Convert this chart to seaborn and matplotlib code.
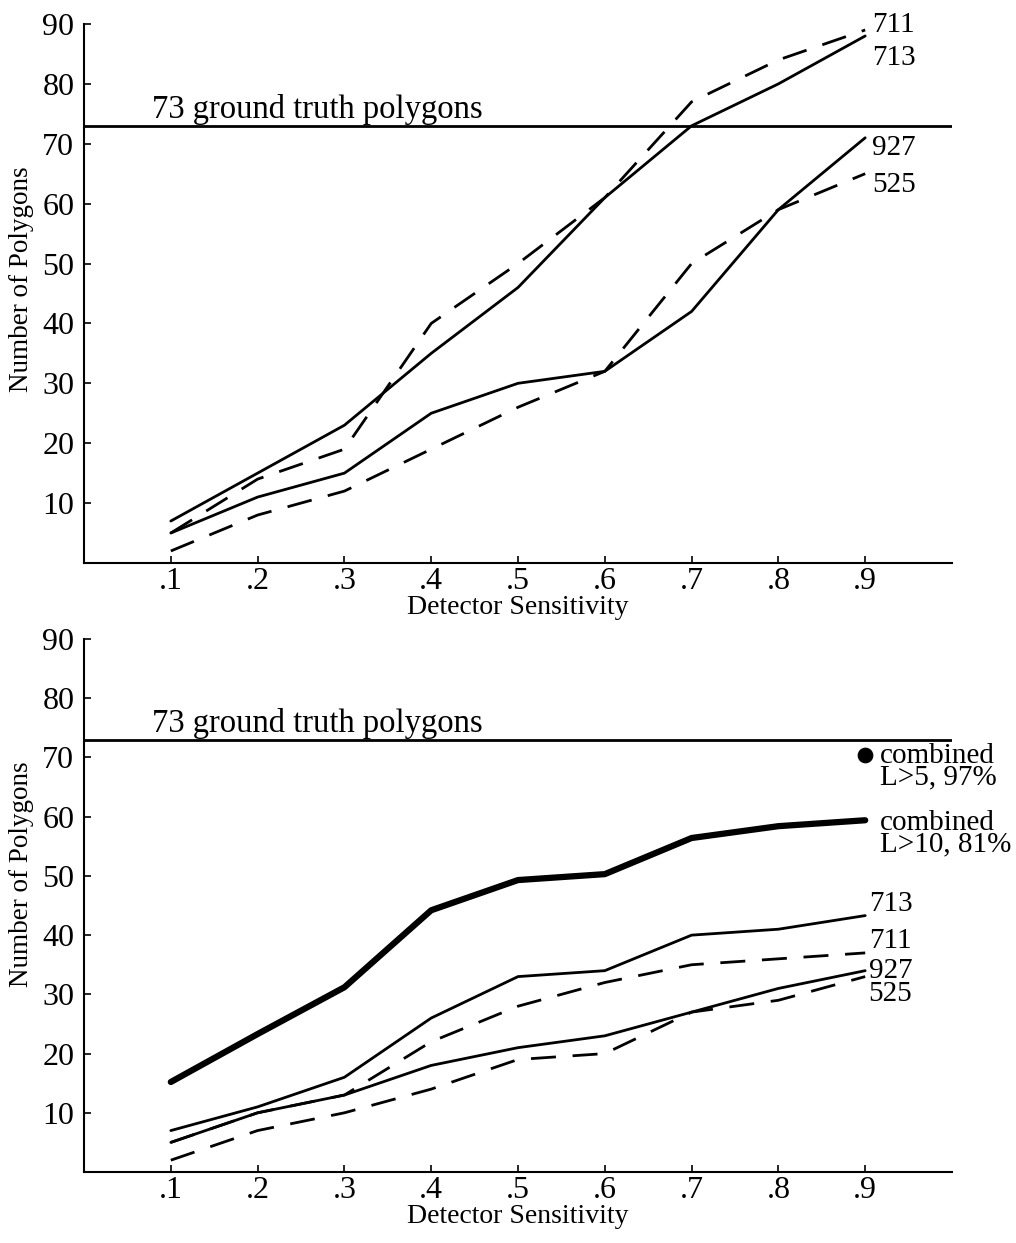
import matplotlib
matplotlib.use("Agg")
import matplotlib.pyplot as plt
import seaborn as sns
import pandas as pd

# ---------------- data ----------------
sensitivity = [0.1, 0.2, 0.3, 0.4, 0.5, 0.6, 0.7, 0.8, 0.9]
tick_labels = [".1", ".2", ".3", ".4", ".5", ".6", ".7", ".8", ".9"]
y_ticks = [10, 20, 30, 40, 50, 60, 70, 80, 90]
ground_truth = 73

top_711 = [5, 14, 19, 40, 50, 61, 77, 84, 89]
top_713 = [7, 15, 23, 35, 46, 61, 73, 80, 88]
top_927 = [5, 11, 15, 25, 30, 32, 42, 59, 71]
top_525 = [2, 8, 12, 19, 26, 32, 50, 59, 65]

bot_combined = [15.2, 23.3, 31.2, 44.2, 49.3, 50.3, 56.4, 58.4, 59.4]
bot_713 = [7, 11, 16, 26, 33, 34, 40, 41, 43.3]
bot_711 = [5, 10, 13, 22, 28, 32, 35, 36, 37]
bot_927 = [5, 10, 13, 18, 21, 23, 27, 31, 34]
bot_525 = [2, 7, 10, 14, 19, 20, 27, 29, 33]

combined_l5_x = [0.9]
combined_l5_y = [70.4]

# ---------------- style ----------------
sns.set_style("ticks")
plt.rcParams["font.family"] = ["Liberation Serif", "DejaVu Serif"]
plt.rcParams["axes.linewidth"] = 1.5
for k in ["text.color", "axes.labelcolor", "xtick.color", "ytick.color",
          "axes.edgecolor"]:
    plt.rcParams[k] = "black"

fig = plt.figure(figsize=(10.16, 12.43), dpi=100)
ax_top = fig.add_axes([0.0827, 0.5471, 0.8543, 0.4336])
ax_bot = fig.add_axes([0.0827, 0.0571, 0.8543, 0.4288])

DASH = (0, (9, 6))
THIN = 2.0


def draw_series(ax, values, dashed=False, lw=THIN):
    df = pd.DataFrame({"x": sensitivity, "y": values})
    kw = dict(linestyle=DASH) if dashed else dict(linestyle="-")
    sns.lineplot(data=df, x="x", y="y", ax=ax, color="black", lw=lw,
                 solid_capstyle="round", dash_capstyle="butt", **kw)


def style_axes(ax, ylabel_y):
    ax.set_xlim(0, 1.0)
    ax.set_ylim(0, 90)
    ax.axhline(ground_truth, color="black", lw=2.0)
    ax.text(0.078, ground_truth + 1.3, "73 ground truth polygons",
            fontsize=23.5, ha="left", va="baseline")
    ax.set_xticks(sensitivity)
    ax.set_xticklabels(tick_labels)
    ax.set_yticks(y_ticks)
    ax.tick_params(axis="both", direction="in", length=5, width=1.2,
                   labelsize=23, colors="black")
    ax.tick_params(axis="y", pad=7)
    ax.tick_params(axis="x", pad=3)
    ax.set_xlabel("Detector Sensitivity", fontsize=20, labelpad=-1)
    ax.set_ylabel("Number of Polygons", fontsize=19.5)
    ax.yaxis.set_label_coords(-0.058, ylabel_y)
    for s in ["top", "right"]:
        ax.spines[s].set_visible(False)


# ---------------- top panel ----------------
draw_series(ax_top, top_711, dashed=True)
draw_series(ax_top, top_713)
draw_series(ax_top, top_927)
draw_series(ax_top, top_525, dashed=True)
style_axes(ax_top, 0.527)
lab_x = 0.908
for txt, yb in [("711", 88.7), ("713", 83.1), ("927", 68.1), ("525", 62.0)]:
    ax_top.text(lab_x, yb, txt, fontsize=21, ha="left", va="baseline")

# ---------------- bottom panel ----------------
draw_series(ax_bot, bot_combined, lw=4.5)
draw_series(ax_bot, bot_713)
draw_series(ax_bot, bot_711, dashed=True)
draw_series(ax_bot, bot_927)
draw_series(ax_bot, bot_525, dashed=True)
sns.scatterplot(x=combined_l5_x, y=combined_l5_y, ax=ax_bot, color="black",
                s=110, edgecolor="black", zorder=5)
style_axes(ax_bot, 0.559)

cx = 0.917
for txt, yb in [("combined\nL>5, 97%", 65.4), ("combined\nL>10, 81%", 54.1)]:
    ax_bot.text(cx, yb, txt, fontsize=21, ha="left", va="baseline",
                linespacing=0.8)
for txt, yb in [("713", 44.0), ("711", 37.8), ("927", 32.8), ("525", 28.8)]:
    ax_bot.text(0.904, yb, txt, fontsize=21, ha="left", va="baseline")

for ax in (ax_top, ax_bot):
    for t in ax.texts:
        t.set_clip_on(False)

fig.savefig("out.png", dpi=100)
